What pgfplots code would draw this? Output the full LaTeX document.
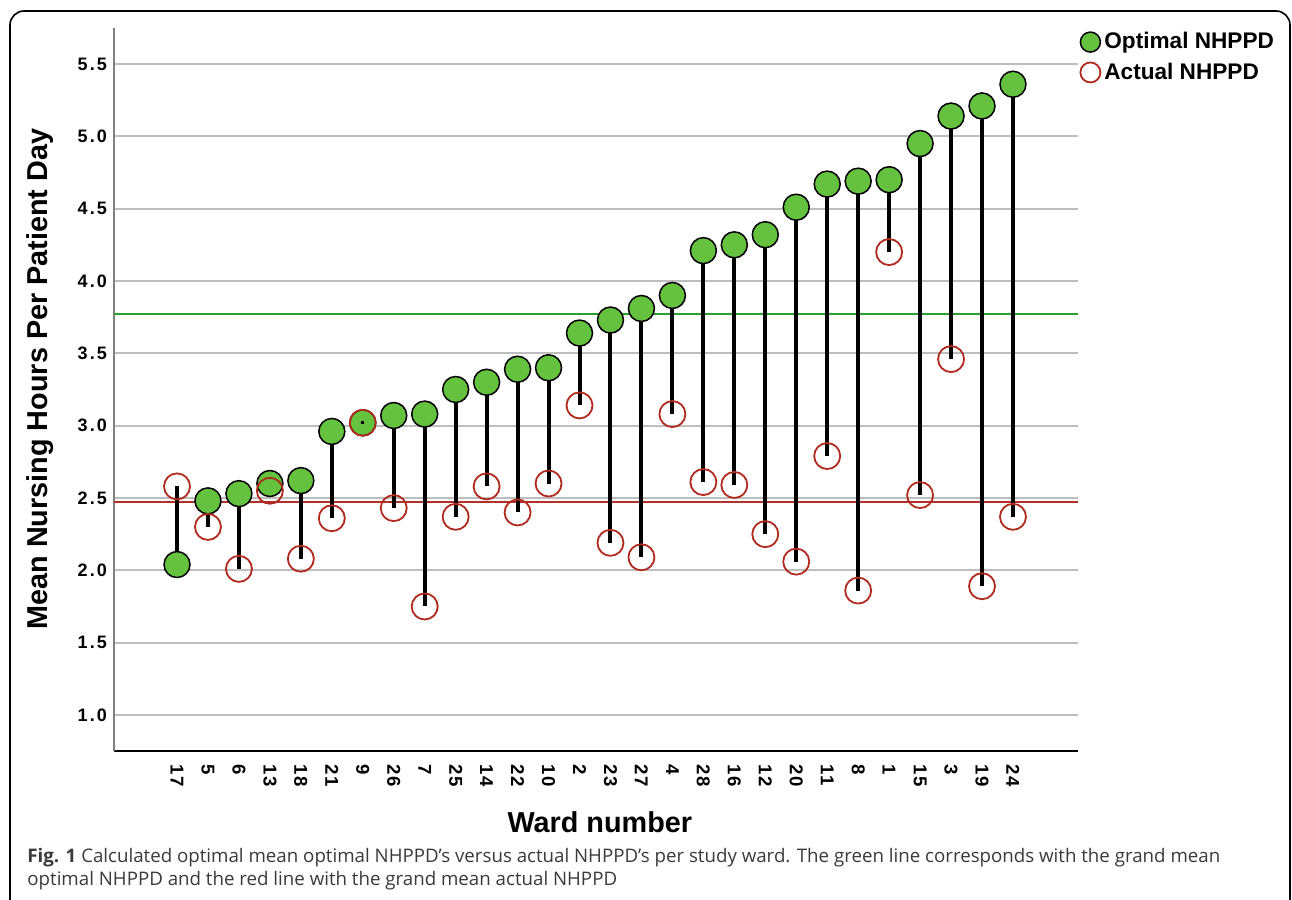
\documentclass[border=0pt]{standalone}
\usepackage{pgfplots}
\usepackage{pgfplotstable}
\pgfplotsset{compat=1.18}
\usepackage{fontspec}
\setmainfont{Liberation Sans}
\newfontfamily\tickfont{Liberation Sans}[LetterSpace=12]
\newfontfamily\capfont{Open Sans}
\definecolor{optgreen}{HTML}{64C23F}
\definecolor{actred}{HTML}{B02A1E}
\definecolor{meangreen}{HTML}{2CA02C}
\definecolor{meanred}{HTML}{B0302A}
\definecolor{gridgray}{HTML}{BEBEBE}
\definecolor{capgray}{HTML}{3A3A3A}

\pgfplotstableread{
x opt act
0 2.04 2.58
1 2.48 2.30
2 2.53 2.01
3 2.60 2.55
4 2.62 2.08
5 2.96 2.36
6 3.02 3.02
7 3.07 2.43
8 3.08 1.75
9 3.25 2.37
10 3.30 2.58
11 3.39 2.40
12 3.40 2.60
13 3.64 3.14
14 3.73 2.19
15 3.81 2.09
16 3.90 3.08
17 4.21 2.61
18 4.25 2.59
19 4.32 2.25
20 4.51 2.06
21 4.67 2.79
22 4.69 1.86
23 4.70 4.20
24 4.95 2.52
25 5.14 3.46
26 5.21 1.89
27 5.36 2.37
}\wards

\begin{document}
\begin{tikzpicture}
\useasboundingbox (0,0) rectangle (646pt,450pt);
\draw[line width=0.8pt, rounded corners=7pt] (5pt,-1pt) -- (5pt,444.5pt) -- (645pt,444.5pt) -- (645pt,-1pt);
\begin{axis}[
  at={(57pt,74.5pt)}, anchor=south west,
  scale only axis, width=482pt, height=361.5pt,
  xmin=-2.035, xmax=29.1, ymin=0.751, ymax=5.749,
  axis x line*=bottom, axis y line*=left,
  x axis line style={black, line width=0.7pt, -},
  y axis line style={gray, line width=0.8pt, -},
  xtick={0,...,27},
  xticklabels={17,5,6,13,18,21,9,26,7,25,14,22,10,2,23,27,4,28,16,12,20,11,8,1,15,3,19,24},
  xticklabel style={rotate=-90, anchor=west, font=\tickfont\bfseries\fontsize{9.3}{10}\selectfont, xshift=3pt},
  ytick={1,1.5,...,5.5},
  yticklabel style={font=\tickfont\bfseries\fontsize{9}{10}\selectfont, /pgf/number format/.cd, fixed, fixed zerofill, precision=1},
  /pgf/number format/assume math mode=true,
  major tick length=0pt,
  ymajorgrids, major grid style={gridgray, line width=0.9pt},
  xlabel={Ward number},
  ylabel={Mean Nursing Hours Per Patient Day},
  xlabel style={at={(axis description cs:0.504,-0.098)}, anchor=center, font=\bfseries\fontsize{14.4}{16}\selectfont},
  ylabel style={at={(axis description cs:-0.0768,0.5145)}, anchor=center, rotate=0, font=\bfseries\fontsize{14.4}{16}\selectfont},
  legend style={at={(axis description cs:1.0,1.0)}, anchor=north west, draw=none, fill=none,
    font=\bfseries\fontsize{11.3}{12}\selectfont, inner xsep=1pt, inner ysep=0pt, row sep=1.5pt,
    nodes={inner xsep=2pt}},
  legend cell align=left,
  clip=false,
]
\addplot[draw=meangreen, line width=1pt, forget plot] coordinates {(-2.035,3.774) (29.1,3.774)};
\addplot[draw=meanred, line width=0.9pt, forget plot] coordinates {(-2.035,2.472) (29.1,2.472)};
\addplot[only marks, mark=*, mark size=6.5pt, mark options={fill=optgreen, draw=black, line width=0.75pt},
  legend image post style={mark size=5pt}] table[x=x, y=opt] {\wards};
\addlegendentry{Optimal NHPPD}
\addplot[only marks, mark=o, mark size=6.5pt, mark options={draw=actred, line width=0.9pt},
  legend image post style={mark size=5pt}] table[x=x, y=act] {\wards};
\addlegendentry{Actual NHPPD}
\addplot[black, line width=2pt, mark=none, -, forget plot,
  quiver={u=0, v=\thisrow{act}-\thisrow{opt}}] table[x=x, y=opt] {\wards};
\addplot[black, only marks, mark=square*, mark size=0.5pt, forget plot] coordinates {(6,3.02)};
\end{axis}
\node[anchor=base west, align=left, text=capgray, inner sep=0pt,
  font=\capfont\fontsize{9.35}{11.5}\selectfont] at (13.5pt,7pt)
  {\textbf{Fig. 1} Calculated optimal mean optimal NHPPD’s versus actual NHPPD’s per study ward. The green line corresponds with the grand mean\\optimal NHPPD and the red line with the grand mean actual NHPPD};
\end{tikzpicture}
\end{document}
